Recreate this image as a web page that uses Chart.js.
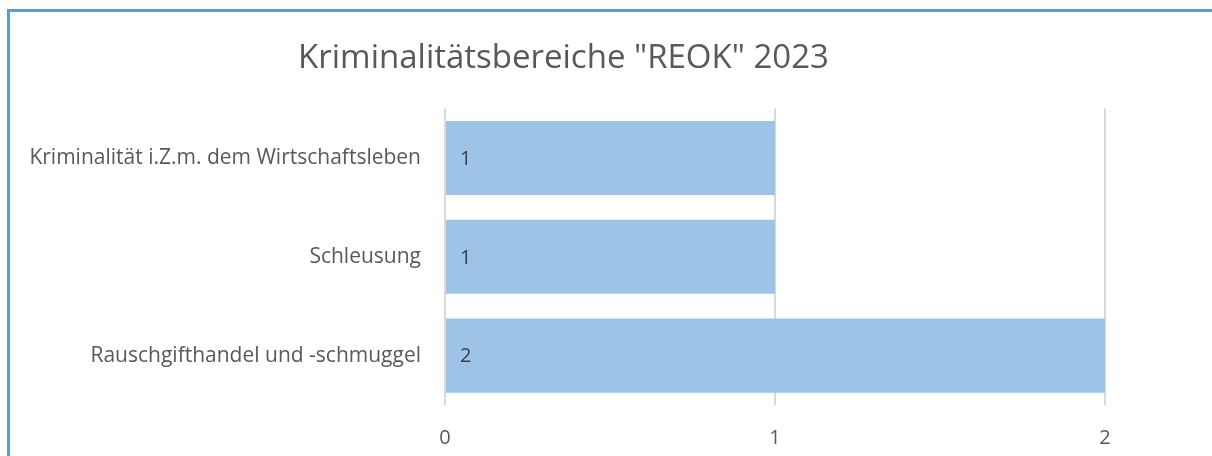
<!DOCTYPE html>
<html>
<head>
<meta charset="utf-8">
<script src="https://cdn.jsdelivr.net/npm/chart.js@4.4.0/dist/chart.umd.min.js"></script>
<style>
  body { margin: 0; background: #fff; overflow: hidden; }
  #frame {
    position: absolute; left: 7px; top: 9px;
    width: 1210px; height: 460px;
    border-top: 3px solid #5b9bd5;
    border-left: 3px solid #5b9bd5;
  }
  #wrap { width: 1202px; height: 444px; }
</style>
</head>
<body>
<div id="frame"><div id="wrap"><canvas id="chart"></canvas></div></div>
<script>
const categories = [
  "Kriminalität i.Z.m. dem Wirtschaftsleben",
  "Schleusung",
  "Rauschgifthandel und -schmuggel"
];
const counts = [1, 1, 2];
const xTicks = [0, 1, 2];
const chartTitle = 'Kriminalitätsbereiche "REOK" 2023';

const fontFamily = "'Open Sans', sans-serif";

// draws the value inside the bar, near its left end
const valueLabels = {
  id: 'valueLabels',
  afterDatasetsDraw(chart) {
    const ctx = chart.ctx;
    const meta = chart.getDatasetMeta(0);
    const xScale = chart.scales.x;
    ctx.save();
    ctx.font = "20px " + fontFamily;
    ctx.fillStyle = '#404040';
    ctx.textAlign = 'left';
    ctx.textBaseline = 'middle';
    meta.data.forEach((bar, i) => {
      ctx.fillText(counts[i], xScale.getPixelForValue(0) + 15, bar.y + 1);
    });
    ctx.restore();
  }
};

new Chart(document.getElementById('chart'), {
  type: 'bar',
  data: {
    labels: categories,
    datasets: [{
      data: counts,
      backgroundColor: '#9dc3e6',
      borderWidth: 0,
      barPercentage: 0.75,
      categoryPercentage: 1
    }]
  },
  options: {
    indexAxis: 'y',
    responsive: true,
    maintainAspectRatio: false,
    animation: false,
    layout: { padding: { left: 12, right: 107, top: 0, bottom: 0 } },
    plugins: {
      legend: { display: false },
      tooltip: { enabled: false },
      title: {
        display: true,
        text: chartTitle,
        color: '#595959',
        font: { family: fontFamily, size: 33, weight: 'normal' },
        padding: { top: 27, bottom: 30 }
      }
    },
    scales: {
      x: {
        min: 0,
        max: 2,
        afterBuildTicks: (axis) => { axis.ticks = xTicks.map(v => ({ value: v })); },
        afterFit: (axis) => { axis.height = 51; },
        grid: { color: '#d9d9d9', lineWidth: 2, drawTicks: false },
        border: { display: false },
        ticks: {
          padding: 21,
          color: '#595959',
          font: { family: fontFamily, size: 20 }
        }
      },
      y: {
        afterFit: (axis) => { axis.width = 423; },
        grid: { display: false, drawTicks: false },
        border: { display: false },
        ticks: {
          padding: 24,
          color: '#595959',
          font: { family: fontFamily, size: 21 }
        }
      }
    }
  },
  plugins: [valueLabels]
});
</script>
</body>
</html>
